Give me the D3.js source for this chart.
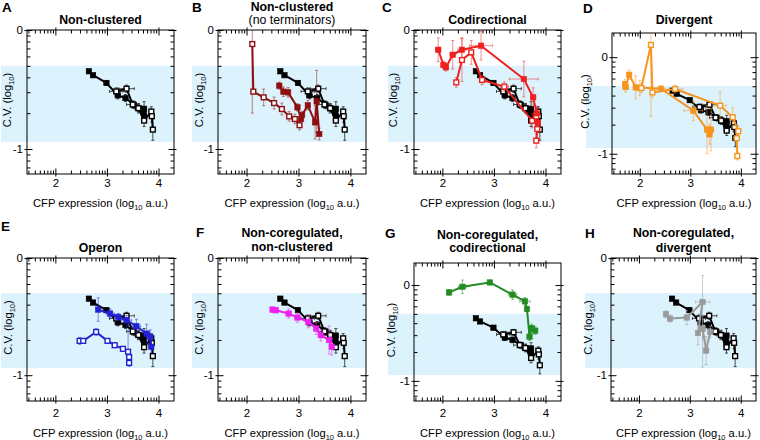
<!DOCTYPE html>
<html><head><meta charset="utf-8">
<script src="https://cdn.jsdelivr.net/npm/d3@7"></script>
<style>body{margin:0;background:#fff} svg{font-family:"Liberation Sans",Arial,Helvetica,sans-serif}</style>
</head><body><svg id="c" width="760" height="440"></svg>
<script>
// ---------- data (log10 expression, log10 C.V.) ----------
const xMajorTicks = [2, 3, 4];
const yMajorTicks = [0, -1];
const xTickLabels = ["2", "3", "4"];
const yTickLabels = ["0", "-1"];
const bandRange = [-0.3, -0.94];

// reference (black) series, shown in every panel
const bkFX = [2.65, 2.73, 2.99, 3.21, 3.36, 3.52, 3.61, 3.72, 3.71, 3.72];
const bkFY = [-0.347, -0.38, -0.445, -0.549, -0.572, -0.628, -0.657, -0.662, -0.696, -0.724];
const bkFXE = [0.02, 0.02, 0.03, 0.05, 0.04, 0.05, 0.04, 0.04, 0.03, 0.03];
const bkFYE = [0.01, 0.01, 0.02, 0.03, 0.03, 0.03, 0.03, 0.06, 0.04, 0.04];
const bkOX = [3.18, 3.38, 3.50, 3.61, 3.72, 3.86, 3.87, 3.89];
const bkOY = [-0.516, -0.493, -0.626, -0.657, -0.761, -0.685, -0.724, -0.837];
const bkOXE = [0.13, 0.15, 0.12, 0.08, 0.05, 0.04, 0.04, 0.04];
const bkOYE = [0.03, 0.03, 0.03, 0.04, 0.05, 0.04, 0.05, 0.09];

// B: non-clustered, no terminators (dark red)
const bFX = [2.63, 2.71, 2.80, 2.98, 3.05, 3.07, 3.18, 3.32, 3.35, 3.40];
const bFY = [-0.468, -0.518, -0.524, -0.65, -0.748, -0.714, -0.633, -0.776, -0.60, -0.874];
const bFXE = [0.02, 0.02, 0.02, 0.02, 0.02, 0.02, 0.03, 0.03, 0.03, 0.02];
const bFYE = [0.03, 0.04, 0.04, 0.03, 0.04, 0.03, 0.04, 0.14, 0.26, 0.05];
const bOX = [2.11, 2.13, 2.33, 2.53, 2.68, 2.82, 2.93, 3.02];
const bOY = [-0.118, -0.518, -0.566, -0.614, -0.664, -0.726, -0.748, -0.80];
const bOXE = [0.01, 0.02, 0.03, 0.02, 0.02, 0.02, 0.02, 0.03];
const bOYE = [[0.58, 0.13], 0.02, 0.07, 0.05, 0.05, 0.04, 0.04, 0.04];

// C: codirectional (red)
const cFX = [1.92, 2.02, 2.07, 2.20, 2.38, 2.75, 3.58, 3.76, 3.83, 3.85];
const cFY = [-0.166, -0.294, -0.314, -0.208, -0.166, -0.132, -0.412, -0.566, -0.70, -0.78];
const cFXE = [0.05, 0.03, 0.03, 0.05, 0.08, 0.22, 0.28, 0.05, 0.04, 0.04];
const cFYE = [0.10, 0.03, 0.03, 0.12, 0.10, 0.12, 0.15, 0.08, 0.06, 0.06];
const cOX = [2.27, 2.38, 2.56, 2.77, 3.20, 3.74, 3.82, 3.84, 3.82];
const cOY = [-0.44, -0.252, -0.188, -0.42, -0.476, -0.762, -0.726, -0.832, -0.93];
const cOXE = [0.02, 0.03, 0.04, 0.05, 0.08, 0.05, 0.04, 0.04, 0.03];
const cOYE = [0.04, 0.18, 0.10, 0.04, 0.04, 0.06, 0.08, 0.10, 0.06];

// D: divergent (orange)
const dFX = [1.71, 1.72, 1.79, 1.92, 2.42, 3.06, 3.33, 3.41, 3.38];
const dFY = [-0.279, -0.31, -0.182, -0.313, -0.327, -0.554, -0.75, -0.75, -0.80];
const dFXE = [0.02, 0.02, 0.03, 0.04, 0.08, 0.18, 0.05, 0.05, 0.04];
const dFYE = [0.05, 0.05, 0.05, 0.12, 0.03, 0.10, 0.25, 0.22, 0.10];
const dOX = [2.00, 2.03, 2.22, 2.25, 2.70, 3.59, 3.84, 3.95, 3.92, 3.93];
const dOY = [-0.32, -0.32, 0.127, -0.365, -0.33, -0.502, -0.622, -0.767, -0.84, -1.024];
const dOXE = [0.03, 0.03, 0.02, 0.03, 0.15, 0.12, 0.05, 0.03, 0.03, 0.03];
const dOYE = [0.08, 0.05, [0.74, 0.15], 0.05, 0.04, 0.14, 0.10, 0.05, 0.10, 0.04];

// E: operon (blue)
const eFX = [2.83, 3.06, 3.22, 3.38, 3.57, 3.77, 3.84, 3.86];
const eFY = [-0.44, -0.474, -0.503, -0.531, -0.582, -0.645, -0.673, -0.758];
const eFXE = [0.03, 0.08, 0.06, 0.10, 0.08, 0.05, 0.04, 0.04];
const eFYE = [0.10, 0.04, 0.03, 0.04, 0.06, 0.08, 0.06, 0.05];
const eOX = [2.47, 2.54, 2.79, 3.01, 3.15, 3.31, 3.41, 3.43, 3.43];
const eOY = [-0.707, -0.707, -0.631, -0.707, -0.744, -0.775, -0.80, -0.845, -0.895];
const eOXE = [0.03, 0.02, 0.03, 0.02, 0.02, 0.03, 0.03, 0.02, 0.02];
const eOYE = [0.03, 0.02, 0.03, 0.02, 0.02, 0.02, [0.03, 0.22], 0.03, 0.03];

// F: non-coregulated, non-clustered (magenta)
const fFX = [2.50, 2.56, 2.81, 2.98, 3.19, 3.34, 3.43, 3.59, 3.64];
const fFY = [-0.44, -0.446, -0.474, -0.508, -0.545, -0.602, -0.659, -0.70, -0.758];
const fFXE = [0.02, 0.03, 0.03, 0.04, 0.04, 0.04, 0.05, 0.04, 0.04];
const fFYE = [0.02, 0.02, 0.04, 0.04, 0.05, 0.05, 0.05, 0.12, 0.07];

// G: non-coregulated, codirectional (green)
const gFX = [2.13, 2.39, 2.92, 3.36, 3.60, 3.64, 3.69, 3.73, 3.80];
const gFY = [-0.077, -0.018, 0.027, -0.10, -0.17, -0.25, -0.539, -0.448, -0.476];
const gFXE = [0.05, 0.08, 0.04, 0.08, 0.10, 0.03, 0.03, 0.04, 0.04];
const gFYE = [0.03, 0.07, 0.02, 0.05, 0.04, 0.03, 0.04, 0.04, 0.04];

// H: non-coregulated, divergent (gray)
const hFX = [2.53, 2.61, 2.94, 3.25, 3.16, 3.25, 3.32, 3.40];
const hFY = [-0.48, -0.517, -0.508, -0.375, -0.64, -0.602, -0.79, -0.63];
const hFXE = [0.02, 0.03, 0.05, 0.14, 0.04, 0.04, 0.04, 0.04];
const hFYE = [0.03, 0.03, 0.06, [0.555, 0.225], 0.10, 0.08, 0.12, 0.05];

// ---------- layout ----------
const xDomain = [1.45, 4.3];
const panels = [
  {L:"A", lx:2, ly:12, l:27, r:174, t:30, b:174, yd:[-1.21,0], ylx:7, xlp:5, xty:207,
   title:[["Non-clustered","bold",24]], color:null, series:[]},
  {L:"B", lx:192, ly:12, l:218, r:366, t:30, b:174, yd:[-1.21,0], ylx:199, xlp:5, xty:207,
   title:[["Non-clustered","bold",10.5],["(no terminators)","normal",23.5]], color:"#8e0f0f",
   series:[[bOX,bOY,bOXE,bOYE,true],[bFX,bFY,bFXE,bFYE,false]]},
  {L:"C", lx:382, ly:12, l:414, r:561, t:30, b:174, yd:[-1.21,0], ylx:393, xlp:5, xty:207,
   title:[["Codirectional","bold",24]], color:"#ee2020",
   series:[[cOX,cOY,cOXE,cOYE,true],[cFX,cFY,cFXE,cFYE,false]]},
  {L:"D", lx:583, ly:13, l:612, r:756, t:33, b:174, yd:[-1.21,0.25], ylx:585, xlp:5, xty:207,
   title:[["Divergent","bold",24]], color:"#f7941e",
   series:[[dOX,dOY,dOXE,dOYE,true],[dFX,dFY,dFXE,dFYE,false]]},
  {L:"E", lx:1, ly:231, l:27, r:174, t:258, b:401, yd:[-1.22,0], ylx:8, xlp:8, xty:437,
   title:[["Operon","bold",252]], color:"#2222d2",
   series:[[eOX,eOY,eOXE,eOYE,true],[eFX,eFY,eFXE,eFYE,false]]},
  {L:"F", lx:196, ly:237, l:218, r:366, t:258, b:401, yd:[-1.22,0], ylx:199, xlp:8, xty:437,
   title:[["Non-coregulated,","bold",237],["non-clustered","bold",251]], color:"#ee22ee",
   series:[[fFX,fFY,fFXE,fFYE,false]]},
  {L:"G", lx:385, ly:238, l:414, r:561, t:263, b:401, yd:[-1.21,0.23], ylx:391, xlp:8, xty:437,
   title:[["Non-coregulated,","bold",239],["codirectional","bold",252]], color:"#238c23",
   series:[[gFX,gFY,gFXE,gFYE,false]]},
  {L:"H", lx:585, ly:238, l:611, r:756, t:258, b:401, yd:[-1.22,0], ylx:588, xlp:8, xty:437,
   title:[["Non-coregulated,","bold",237],["divergent","bold",252]], color:"#9a9a9a",
   series:[[hFX,hFY,hFXE,hFYE,false]]}
];

const svg = d3.select("#c");

function minorTicks(dom){
  const out = [];
  for (let n = Math.floor(dom[0]) - 1; n <= Math.ceil(dom[1]); n++)
    for (let k = 2; k <= 9; k++){ const v = n + Math.log10(k); if (v > dom[0] && v < dom[1]) out.push(v); }
  return out;
}

function drawPanel(p, idx){
  const g = svg.append("g");
  const x = d3.scaleLinear().domain(xDomain).range([p.l, p.r]);
  const y = d3.scaleLinear().domain(p.yd).range([p.b, p.t]);

  // background band
  g.append("rect").attr("x", p.l - 26).attr("width", p.r - p.l + 26)
    .attr("y", y(bandRange[0])).attr("height", y(bandRange[1]) - y(bandRange[0]))
    .attr("fill", "#dcf2fc");

  const cid = "clip" + idx;
  svg.append("clipPath").attr("id", cid).append("rect")
    .attr("x", p.l).attr("y", p.t).attr("width", p.r - p.l).attr("height", p.b - p.t);
  const dg = g.append("g").attr("clip-path", `url(#${cid})`);

  const groups = [
    {color:"#000", eb:"#3a3a3a", ebo:0.9, list:[[bkFX,bkFY,bkFXE,bkFYE,false],[bkOX,bkOY,bkOXE,bkOYE,true]]}
  ];
  if (p.color) groups.push({color:p.color, eb:p.color, ebo:0.5, list:p.series});

  groups.forEach(gr => {
    const eg = dg.append("g").attr("stroke", gr.eb).attr("stroke-opacity", gr.ebo).attr("stroke-width", 1).attr("fill", "none");
    gr.list.forEach(([xs, ys, xe, ye]) => {
      xs.forEach((xv, i) => {
        const yv = ys[i];
        const ex = xe[i];
        const ey = Array.isArray(ye[i]) ? ye[i] : [ye[i], ye[i]];
        const cx = x(xv), cy = y(yv);
        const x0 = x(xv - ex), x1 = x(xv + ex);
        const y0 = y(yv - ey[0]), y1 = y(yv + ey[1]);
        eg.append("line").attr("x1", x0).attr("x2", x1).attr("y1", cy).attr("y2", cy);
        eg.append("line").attr("x1", x0).attr("x2", x0).attr("y1", cy - 1.5).attr("y2", cy + 1.5);
        eg.append("line").attr("x1", x1).attr("x2", x1).attr("y1", cy - 1.5).attr("y2", cy + 1.5);
        eg.append("line").attr("x1", cx).attr("x2", cx).attr("y1", y0).attr("y2", y1);
        eg.append("line").attr("x1", cx - 1.5).attr("x2", cx + 1.5).attr("y1", y0).attr("y2", y0);
        eg.append("line").attr("x1", cx - 1.5).attr("x2", cx + 1.5).attr("y1", y1).attr("y2", y1);
      });
    });
    gr.list.forEach(([xs, ys]) => {
      const line = d3.line().x(i => x(xs[i])).y(i => y(ys[i]));
      dg.append("path").attr("d", line(d3.range(xs.length)))
        .attr("fill", "none").attr("stroke", gr.color).attr("stroke-width", 2).attr("stroke-linejoin", "round");
    });
    gr.list.forEach(([xs, ys, , , open]) => {
      const s = open ? 4.8 : 5.4;
      dg.append("g").selectAll("rect").data(d3.range(xs.length)).join("rect")
        .attr("x", i => x(xs[i]) - s / 2).attr("y", i => y(ys[i]) - s / 2)
        .attr("width", s).attr("height", s)
        .attr("fill", open ? "#fff" : gr.color)
        .attr("stroke", gr.color).attr("stroke-width", open ? 1.4 : 0.6);
    });
  });

  // frame
  g.append("rect").attr("x", p.l).attr("y", p.t).attr("width", p.r - p.l).attr("height", p.b - p.t)
    .attr("fill", "none").attr("stroke", "#000").attr("stroke-width", 1);

  const xm = minorTicks(xDomain), ym = minorTicks(p.yd);
  const ymaj = yMajorTicks.filter(v => v >= p.yd[0] && v <= p.yd[1]);
  const axStyle = sel => { sel.select(".domain").remove(); sel.selectAll("line").attr("stroke", "#000").attr("stroke-width", 1); };

  // inward ticks on all four sides
  [[d3.axisBottom, p.b], [d3.axisTop, p.t]].forEach(([fn, pos]) => {
    g.append("g").attr("transform", `translate(0,${pos})`).call(fn(x).tickValues(xm).tickSize(-3.5).tickFormat("")).call(axStyle);
    g.append("g").attr("transform", `translate(0,${pos})`).call(fn(x).tickValues(xMajorTicks).tickSize(-5.5).tickFormat("")).call(axStyle);
    g.append("g").attr("transform", `translate(0,${pos})`).call(fn(x).tickValues(xMajorTicks).tickSize(2.5).tickFormat("")).call(axStyle);
  });
  [[d3.axisLeft, p.l], [d3.axisRight, p.r]].forEach(([fn, pos]) => {
    g.append("g").attr("transform", `translate(${pos},0)`).call(fn(y).tickValues(ym).tickSize(-3.5).tickFormat("")).call(axStyle);
    g.append("g").attr("transform", `translate(${pos},0)`).call(fn(y).tickValues(ymaj).tickSize(-5.5).tickFormat("")).call(axStyle);
    g.append("g").attr("transform", `translate(${pos},0)`).call(fn(y).tickValues(ymaj).tickSize(2.5).tickFormat("")).call(axStyle);
  });

  // tick labels through axes
  const xl = g.append("g").attr("transform", `translate(0,${p.b})`)
    .call(d3.axisBottom(x).tickValues(xMajorTicks).tickSize(0).tickPadding(p.xlp).tickFormat((d, i) => xTickLabels[i]));
  xl.select(".domain").remove();
  xl.selectAll("text").attr("font-size", 11.5).attr("font-family", "Liberation Sans, Arial, sans-serif").attr("fill", "#000");
  const yl = g.append("g").attr("transform", `translate(${p.l},0)`)
    .call(d3.axisLeft(y).tickValues(ymaj).tickSize(0).tickPadding(4).tickFormat(d => yTickLabels[yMajorTicks.indexOf(d)]));
  yl.select(".domain").remove();
  yl.selectAll("text").attr("font-size", 11.5).attr("font-family", "Liberation Sans, Arial, sans-serif").attr("fill", "#000");

  // axis titles
  const xt = g.append("text").attr("x", (p.l + p.r) / 2).attr("y", p.xty).attr("text-anchor", "middle").attr("font-size", 11.2);
  xt.append("tspan").text("CFP expression (log");
  xt.append("tspan").text("10").attr("font-size", 7.5).attr("dy", 2.5);
  xt.append("tspan").text(" a.u.)").attr("dy", -2.5);

  const yc = (p.t + p.b) / 2 - 2;
  const yt = g.append("text").attr("transform", `translate(${p.ylx + 4},${yc}) rotate(-90)`).attr("text-anchor", "middle").attr("font-size", 11.2);
  yt.append("tspan").text("C.V. (log");
  yt.append("tspan").text("10").attr("font-size", 7.5).attr("dy", 2.5);
  yt.append("tspan").text(")").attr("dy", -2.5);

  // titles and letter
  p.title.forEach(([txt, w, by]) => {
    g.append("text").attr("x", (p.l + p.r) / 2).attr("y", by).attr("text-anchor", "middle")
      .attr("font-size", 12.3).attr("font-weight", w).text(txt);
  });
  g.append("text").attr("x", p.lx).attr("y", p.ly).attr("font-size", 13.5).attr("font-weight", "bold").text(p.L);
}

panels.forEach(drawPanel);
</script></body></html>
